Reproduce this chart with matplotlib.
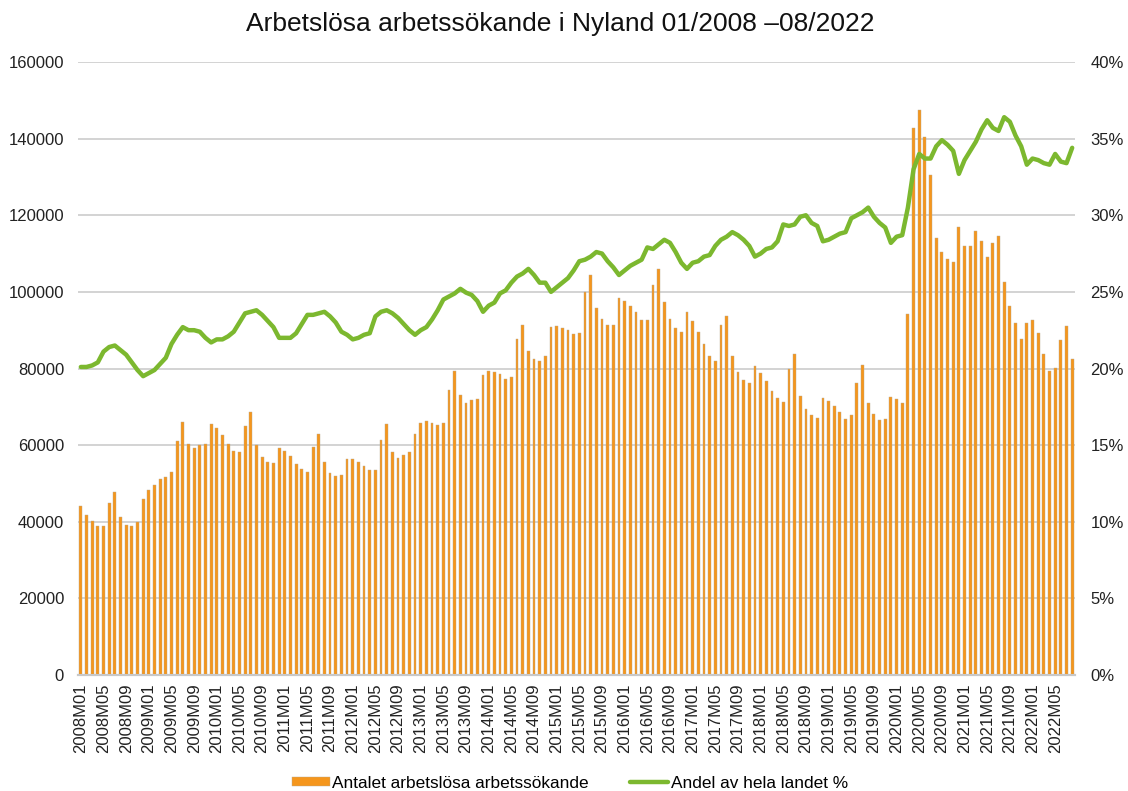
import matplotlib
matplotlib.use("Agg")
import matplotlib.pyplot as plt
from matplotlib.ticker import FuncFormatter, MultipleLocator

plt.rcParams['font.family'] = ['Liberation Sans', 'DejaVu Sans']

title = "Arbetslösa arbetssökande i Nyland 01/2008 –08/2022"
bar_label = "Antalet arbetslösa arbetssökande"
line_label = "Andel av hela landet %"

years = list(range(2008, 2023))
months = [f"{y}M{m:02d}" for y in years for m in range(1, 13)][:176]

unemployed = [
    44000, 41800, 40200, 39000, 39000, 44800, 47700, 41300, 39200, 39000, 39900, 45900,
    48400, 49500, 51200, 51700, 52900, 61100, 66000, 60400, 59200, 60000, 60400, 65400,
    64500, 62600, 60400, 58400, 58200, 65100, 68600, 60100, 56800, 55600, 55300, 59200,
    58500, 57100, 55200, 53800, 53000, 59500, 62800, 55600, 52700, 51900, 52200, 56500,
    56500, 55600, 54600, 53500, 53500, 61300, 65500, 58200, 56600, 57300, 58200, 62900,
    65800, 66200, 65900, 65200, 65700, 74400, 79300, 73200, 71000, 71800, 72000, 78300,
    79300, 79000, 78500, 77300, 77800, 87700, 91400, 84500, 82400, 82000, 83300, 90800,
    91000, 90700, 90000, 88900, 89300, 100000, 104300, 95800, 92900, 91300, 91300, 98500,
    97600, 96300, 94700, 92700, 92700, 101800, 105900, 97400, 92900, 90600, 89500, 94700,
    92500, 89500, 86400, 83300, 82000, 91300, 93700, 83300, 79200, 77000, 76100, 80600,
    78700, 76700, 74100, 72200, 71300, 80000, 83800, 72900, 69500, 67800, 67200, 72200,
    71500, 70300, 68600, 66700, 67800, 76100, 80800, 71000, 68100, 66600, 66900, 72500,
    72000, 71000, 94200, 142900, 147500, 140400, 130500, 114000, 110300, 108600, 107700, 116900,
    112100, 112100, 115900, 113300, 109100, 112700, 114700, 102600, 96300, 92000, 87800, 91800,
    92600, 89300, 83800, 79400, 80200, 87400, 91100, 82400,
]

share_pct = [
    20.1, 20.1, 20.2, 20.4, 21.1, 21.4, 21.5, 21.2, 20.9, 20.4, 19.9, 19.5,
    19.7, 19.9, 20.3, 20.7, 21.6, 22.2, 22.7, 22.5, 22.5, 22.4, 22.0, 21.7,
    21.9, 21.9, 22.1, 22.4, 23.0, 23.6, 23.7, 23.8, 23.5, 23.1, 22.7, 22.0,
    22.0, 22.0, 22.3, 22.9, 23.5, 23.5, 23.6, 23.7, 23.4, 23.0, 22.4, 22.2,
    21.9, 22.0, 22.2, 22.3, 23.4, 23.7, 23.8, 23.6, 23.3, 22.9, 22.5, 22.2,
    22.5, 22.7, 23.2, 23.8, 24.5, 24.7, 24.9, 25.2, 24.95, 24.8, 24.4, 23.7,
    24.1, 24.3, 24.9, 25.1, 25.6, 26.0, 26.2, 26.5, 26.1, 25.6, 25.6, 25.0,
    25.3, 25.6, 25.9, 26.4, 27.0, 27.1, 27.3, 27.6, 27.5, 27.0, 26.6, 26.1,
    26.4, 26.7, 26.9, 27.1, 27.9, 27.8, 28.1, 28.4, 28.2, 27.6, 26.9, 26.5,
    26.9, 27.0, 27.3, 27.4, 28.0, 28.4, 28.6, 28.9, 28.7, 28.4, 28.0, 27.3,
    27.5, 27.8, 27.9, 28.3, 29.4, 29.3, 29.4, 29.9, 30.0, 29.5, 29.3, 28.3,
    28.4, 28.6, 28.8, 28.9, 29.8, 30.0, 30.2, 30.5, 29.9, 29.5, 29.2, 28.2,
    28.6, 28.7, 30.5, 33.0, 34.0, 33.7, 33.7, 34.5, 34.9, 34.6, 34.2, 32.7,
    33.6, 34.2, 34.8, 35.6, 36.2, 35.7, 35.5, 36.4, 36.1, 35.2, 34.5, 33.3,
    33.7, 33.6, 33.4, 33.3, 34.0, 33.5, 33.4, 34.4,
]

W, H = 1128, 791
fig = plt.figure(figsize=(W / 100, H / 100), dpi=100)
ax = fig.add_axes([78 / W, 1 - 675 / H, (1075 - 78) / W, (675 - 62) / H])
ax2 = ax.twinx()

x = list(range(len(months)))
bars = ax.bar(x, unemployed, width=0.5, color='#F5961C', edgecolor='#BBA98F',
              linewidth=0.3, zorder=3, label=bar_label)
line, = ax2.plot(x, share_pct, color='#7CB82F', linewidth=3.2, zorder=4,
                 solid_capstyle='round', solid_joinstyle='round', label=line_label)

ax.set_xlim(-0.5, len(months) - 0.5)
ax.set_ylim(0, 160000)
ax.yaxis.set_major_locator(MultipleLocator(20000))
ax.yaxis.set_major_formatter(FuncFormatter(lambda v, p: f"{int(v)}"))
ax2.set_ylim(0, 40)
ax2.yaxis.set_major_locator(MultipleLocator(5))
ax2.yaxis.set_major_formatter(FuncFormatter(lambda v, p: f"{int(v)}%"))

ax.set_xticks(x[::4])
ax.set_xticklabels(months[::4], rotation=90, fontsize=12, color='#222222')
ax.tick_params(axis='x', length=0, pad=6)
ax.tick_params(axis='y', length=0, labelsize=12, labelcolor='#222222', pad=10)
ax2.tick_params(axis='y', length=0, labelsize=12, labelcolor='#222222', pad=11)

ax.grid(axis='y', color='#D0D0D0', linewidth=1.3, zorder=0)
ax.set_axisbelow(True)
for a in (ax, ax2):
    for s in ('top', 'left', 'right'):
        a.spines[s].set_visible(False)
    a.spines['bottom'].set_color('#C8C8C8')
    a.spines['bottom'].set_linewidth(1.5)

fig.text(0.497, 1 - 24 / H, title, ha='center', va='center', fontsize=19,
         color='#111111')

fig.legend([bars, line], [bar_label, line_label], loc='center',
           bbox_to_anchor=(0.505, 1 - 783 / H), ncol=2, frameon=False,
           fontsize=12.4, handlelength=2.2, handleheight=0.45, columnspacing=2.4,
           handletextpad=0.15)

fig.savefig("out.png", dpi=100)
